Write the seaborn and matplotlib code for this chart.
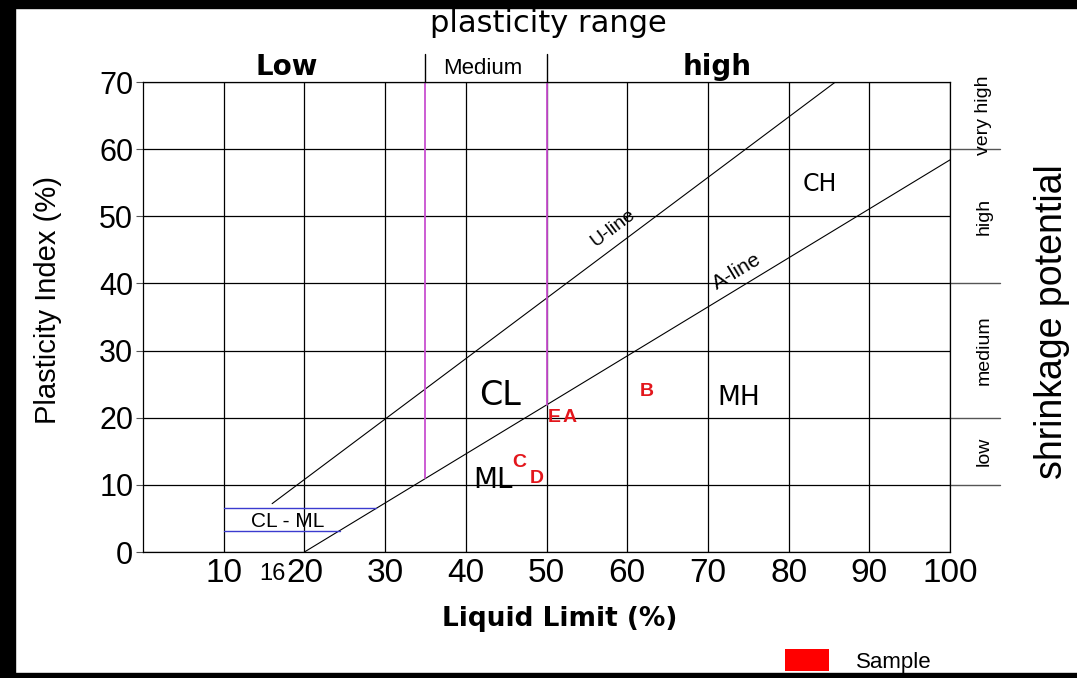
import matplotlib
matplotlib.use("Agg")
import matplotlib.pyplot as plt
from matplotlib.patches import Patch, Rectangle
import pandas as pd
import seaborn as sns

# ==========================================
# DATA
# ==========================================
# sample points (liquid limit %, plasticity index %)
SAMPLE_NAMES = ["A", "B", "C", "D", "E"]
SAMPLE_LL = [52.8, 62.4, 46.6, 48.8, 51.0]
SAMPLE_PI = [20.0, 23.9, 13.3, 10.9, 20.0]

# boundary lines of the plasticity chart
U_LINE_LL = [16.0, 85.8]
U_LINE_PI = [7.2, 70.0]
A_LINE_LL = [20.0, 100.0]
A_LINE_PI = [0.0, 58.4]

# medium plasticity limits (magenta) from A-line up to top
MEDIUM_LL = [35.0, 50.0]
MEDIUM_PI_START = [10.95, 21.9]

# CL-ML band (blue)
CLML_PI = [6.5, 3.2]
CLML_LL_END = [28.9, 24.4]

X_TICKS = [10, 20, 30, 40, 50, 60, 70, 80, 90, 100]
X_MINOR = [16]
Y_TICKS = [0, 10, 20, 30, 40, 50, 60, 70]

# shrinkage potential bands (lower, upper PI)
SHRINK_LABELS = ["low", "medium", "high", "very high"]
SHRINK_LOW = [10, 20, 40, 60]
SHRINK_HIGH = [20, 40, 60, 70]

W, H = 1077, 678
sns.set_style("white")
plt.rcParams["font.family"] = ["Liberation Sans", "DejaVu Sans"]
plt.rcParams.update({"text.color": "black", "axes.labelcolor": "black",
                     "xtick.color": "black", "ytick.color": "black"})

fig = plt.figure(figsize=(W / 100, H / 100), dpi=100)
ax = fig.add_axes([143 / W, 1 - 552 / H, (950 - 143) / W, (552 - 82) / H])


def fx(px):
    return px / W


def fy(py):
    return 1 - py / H


# ==========================================
# LINES
# ==========================================
lines = pd.DataFrame(
    {
        "LL": U_LINE_LL + A_LINE_LL,
        "PI": U_LINE_PI + A_LINE_PI,
        "line": ["U-line"] * 2 + ["A-line"] * 2,
    }
)
sns.lineplot(
    data=lines, x="LL", y="PI", units="line", estimator=None, sort=False,
    color="black", linewidth=0.8, ax=ax, legend=False,
)

for ll, pi0 in zip(MEDIUM_LL, MEDIUM_PI_START):
    sns.lineplot(x=[ll, ll], y=[pi0, 70], color="#c84fd0", linewidth=1.3,
                 ax=ax, estimator=None, sort=False)
    # bracket marks above the chart
    ax.plot([ll, ll], [70, 74.1], color="black", lw=1.0, clip_on=False)

for pi, ll_end in zip(CLML_PI, CLML_LL_END):
    sns.lineplot(x=[10, ll_end], y=[pi, pi], color="#3b3bcf", linewidth=1.0,
                 ax=ax, estimator=None, sort=False)

# shrinkage potential separators extending to the right
for pi in sorted(set(SHRINK_LOW + SHRINK_HIGH[:-1])):
    ax.plot([100, 106.2], [pi, pi], color="#555555", lw=1.0, clip_on=False)

# sample letters
for name, ll, pi in zip(SAMPLE_NAMES, SAMPLE_LL, SAMPLE_PI):
    ax.text(ll, pi, name, color="#e3161c", fontsize=14, fontweight="bold",
            ha="center", va="center")

# region labels
wide = ["DejaVu Sans"]
ax.text(44.2, 23.3, "CL", fontsize=24, ha="center", va="center", family=wide)
ax.text(43.4, 10.7, "ML", fontsize=20, ha="center", va="center", family=wide)
ax.text(73.8, 22.9, "MH", fontsize=19, ha="center", va="center", family=wide)
ax.text(83.9, 54.8, "CH", fontsize=17, ha="center", va="center", family=wide)
ax.text(17.9, 4.6, "CL - ML", fontsize=15, ha="center", va="center")
ax.text(58.2, 48.3, "U-line", fontsize=14, rotation=37, ha="center", va="center")
ax.text(73.6, 41.7, "A-line", fontsize=15, rotation=31, ha="center", va="center")

# ==========================================
# AXES
# ==========================================
ax.set_xlim(0, 100)
ax.set_ylim(0, 70)
ax.set_xticks(X_TICKS)
ax.set_xticks(X_MINOR, minor=True)
ax.set_xticklabels([str(v) for v in X_TICKS])
ax.set_xticklabels([str(v) for v in X_MINOR], minor=True)
ax.set_yticks(Y_TICKS)
ax.grid(True, which="major", color="black", linewidth=0.9)
ax.tick_params(axis="x", which="major", labelsize=24, length=0, pad=4)
ax.tick_params(axis="x", which="minor", labelsize=17, length=0, pad=8)
ax.tick_params(axis="y", labelsize=22, length=5, pad=2, left=True, color="#555555")
for sp in ax.spines.values():
    sp.set_visible(True)
    sp.set_color("black")
    sp.set_linewidth(0.9)
ax.set_xlabel("")
ax.set_ylabel("")

# ==========================================
# FIGURE TEXT
# ==========================================
fig.text(fx(48), fy(300), "Plasticity Index (%)", rotation=90, fontsize=21,
         ha="center", va="center", family=["Liberation Sans Narrow", "Liberation Sans"])
fig.text(fx(560), fy(619), "Liquid Limit (%)", fontsize=19, fontweight="bold",
         ha="center", va="center", family=wide)
fig.text(fx(548), fy(23), "plasticity range", fontsize=22, ha="center", va="center",
         family=wide)
fig.text(fx(287), fy(67), "Low", fontsize=20, fontweight="bold", ha="center",
         va="center", family=wide)
fig.text(fx(483), fy(68), "Medium", fontsize=16, ha="center", va="center")
fig.text(fx(717), fy(67), "high", fontsize=20, fontweight="bold", ha="center",
         va="center", family=wide)
fig.text(fx(1052), fy(322), "shrinkage potential", rotation=90, fontsize=27,
         ha="center", va="center", family=["Liberation Sans Narrow", "Liberation Sans"])

for lab, lo, hi in zip(SHRINK_LABELS, SHRINK_LOW, SHRINK_HIGH):
    ax.text(104.2, (lo + hi) / 2, lab, rotation=90, fontsize=14, ha="center",
            va="center", family=["Liberation Sans Narrow", "Liberation Sans"])

# legend
fig.legend(
    handles=[Patch(facecolor="#ff0000", edgecolor="none", label="Sample")],
    loc="center", bbox_to_anchor=(fx(858), fy(661)), frameon=False,
    fontsize=16, handlelength=2.0, handleheight=1.1, handletextpad=1.2,
)

# black frame edges
fig.patches.append(Rectangle((0, 0), fx(15), 1, transform=fig.transFigure,
                             color="black", zorder=10))
fig.patches.append(Rectangle((0, fy(8)), 1, 8 / H, transform=fig.transFigure,
                             color="black", zorder=10))
fig.patches.append(Rectangle((0, 0), 1, 5 / H, transform=fig.transFigure,
                             color="black", zorder=10))

fig.savefig("out.png", dpi=100)
